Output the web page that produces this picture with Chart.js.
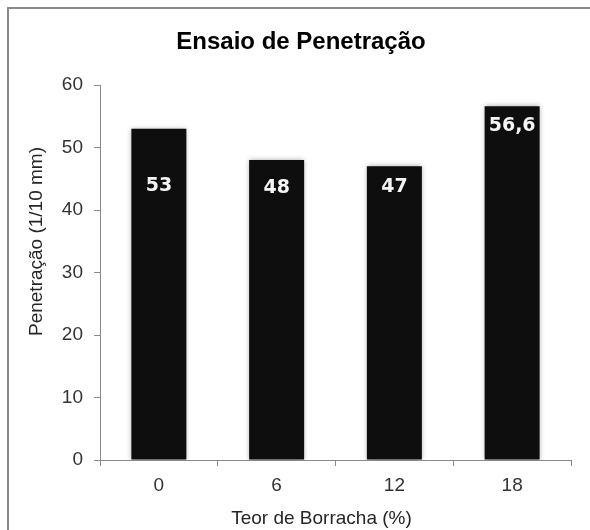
<!DOCTYPE html>
<html>
<head>
<meta charset="utf-8">
<script src="https://cdn.jsdelivr.net/npm/chart.js@4/dist/chart.umd.min.js"></script>
<style>
  html, body { margin: 0; padding: 0; background: #fff; }
  canvas { display: block; }
</style>
</head>
<body>
<canvas id="chart" width="590" height="530"></canvas>
<script>
// Rubber content (%) and penetration (1/10 mm)
const categories = ['0', '6', '12', '18'];
const penetration = [53, 48, 47, 56.6];
const yTickValues = [0, 10, 20, 30, 40, 50, 60];

const chartTitle = 'Ensaio de Penetração';
const xAxisTitle = 'Teor de Borracha (%)';
const yAxisTitle = 'Penetração (1/10 mm)';

const SANS = "'Liberation Sans', Arial, sans-serif";

// Soft grey halo around each bar
const barHalo = {
  id: 'barHalo',
  beforeDatasetDraw(chart) {
    const ctx = chart.ctx;
    ctx.save();
    ctx.shadowColor = 'rgba(0,0,0,0.35)';
    ctx.shadowBlur = 5;
    ctx.shadowOffsetX = 0;
    ctx.shadowOffsetY = 0;
  },
  afterDatasetDraw(chart) {
    chart.ctx.restore();
  }
};

// Frame, titles and the value labels inside the bars
const chartText = {
  id: 'chartText',
  beforeDraw(chart, args, o) {
    const ctx = chart.ctx;
    ctx.save();
    ctx.fillStyle = '#fff';
    ctx.fillRect(0, 0, chart.width, chart.height);
    ctx.strokeStyle = '#8a8a8a';
    ctx.lineWidth = 2;
    ctx.beginPath();
    ctx.moveTo(o.frame, chart.height);
    ctx.lineTo(o.frame, o.frame);
    ctx.lineTo(chart.width, o.frame);
    ctx.stroke();
    ctx.restore();
  },
  afterDatasetsDraw(chart, args, o) {
    const ctx = chart.ctx;
    const meta = chart.getDatasetMeta(0);
    const values = chart.data.datasets[0].data;
    ctx.save();
    ctx.fillStyle = '#f4f4f4';
    ctx.font = "bold 19px 'DejaVu Sans', Verdana, sans-serif";
    ctx.textAlign = 'center';
    ctx.textBaseline = 'middle';
    meta.data.forEach((bar, i) => {
      const text = values[i].toLocaleString('pt-BR');
      ctx.fillText(text, bar.x, bar.y + o.labelDrop[i]);
    });
    ctx.restore();
  },
  afterDraw(chart, args, o) {
    const ctx = chart.ctx;
    const area = chart.chartArea;
    ctx.save();
    ctx.textAlign = 'center';
    ctx.textBaseline = 'middle';
    ctx.fillStyle = '#000';
    ctx.font = 'bold 24px ' + SANS;
    ctx.fillText(chartTitle, o.titleX, o.titleY);

    ctx.fillStyle = '#262626';
    ctx.font = '19px ' + SANS;
    ctx.fillText(xAxisTitle, (area.left + area.right) / 2 + o.xTitleShift, o.xTitleY);

    ctx.translate(o.yTitleX, (area.top + area.bottom) / 2 + o.yTitleShift);
    ctx.rotate(-Math.PI / 2);
    ctx.fillText(yAxisTitle, 0, 0);
    ctx.restore();
  }
};

new Chart(document.getElementById('chart'), {
  type: 'bar',
  data: {
    labels: categories,
    datasets: [{
      data: penetration,
      backgroundColor: '#0e0e0e',
      borderWidth: 0,
      barPercentage: 0.467,
      categoryPercentage: 1
    }]
  },
  options: {
    responsive: false,
    devicePixelRatio: 1,
    animation: false,
    layout: { padding: { left: 10, right: 19, top: 85, bottom: 0 } },
    plugins: {
      legend: { display: false },
      title: { display: false },
      tooltip: { enabled: false },
      chartText: {
        frame: 8,
        titleX: 301, titleY: 42,
        xTitleY: 519, xTitleShift: -14,
        yTitleX: 37, yTitleShift: -31,
        labelDrop: [57, 28, 21, 20]
      }
    },
    scales: {
      x: {
        offset: true,
        grid: {
          offset: true,
          drawOnChartArea: false,
          drawTicks: true,
          tickLength: 6,
          color: '#8a8a8a'
        },
        border: { display: true, color: '#8a8a8a', width: 1 },
        ticks: {
          color: '#333',
          padding: 8,
          font: { family: SANS, size: 19 }
        },
        afterFit(scale) { scale.height = 70; }
      },
      y: {
        min: 0,
        max: 60,
        grid: {
          drawOnChartArea: false,
          drawTicks: true,
          tickLength: 6,
          color: '#8a8a8a'
        },
        border: { display: true, color: '#8a8a8a', width: 1 },
        ticks: {
          color: '#333',
          padding: 11,
          font: { family: SANS, size: 19 }
        },
        afterBuildTicks(scale) {
          scale.ticks = yTickValues.map(v => ({ value: v }));
        },
        afterFit(scale) { scale.width = 90; }
      }
    }
  },
  plugins: [barHalo, chartText]
});
</script>
</body>
</html>
